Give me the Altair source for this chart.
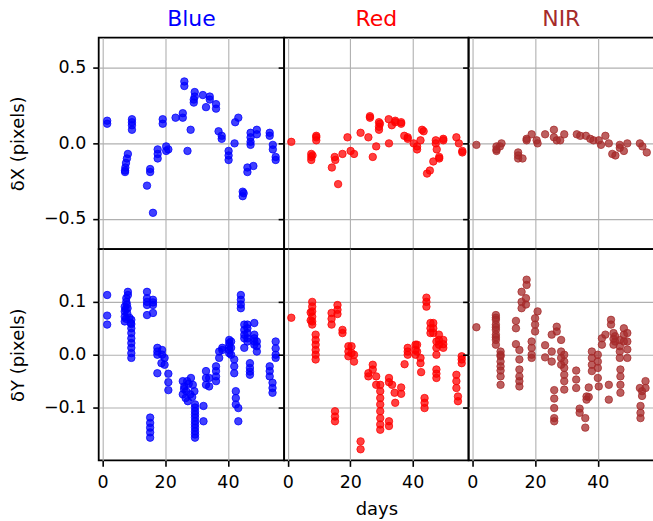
import altair as alt
import pandas as pd

FONT = "DejaVu Sans"

# ---- Blue band --------------------------------------------------------------
blue_dx_day = [1.5, 1.5, 9.4, 9.4, 9.4, 9.4, 8.1, 7.8, 7.5, 7.3, 7.2, 7.2,
               15.2, 15.2, 14.2, 16.1, 17.6, 17.6, 17.6, 19.2, 19.2, 20.3, 20.3,
               21.0, 23.3, 25.6, 25.6, 26.1, 26.1, 28.1, 27.1, 29.1, 29.1, 29.4,
               29.4, 32.0, 33.0, 34.2, 34.2, 36.2, 36.2, 37.0, 38.0, 38.0, 40.2,
               40.2, 40.2, 42.1, 43.3, 42.3, 44.7, 44.7, 45.0, 46.2, 46.2, 48.1,
               47.2, 47.2, 47.2, 47.2, 49.2, 49.2, 53.3, 53.3, 54.3, 54.3, 55.2, 55.2]
blue_dx = [0.15, 0.13, 0.16, 0.14, 0.12, 0.09, -0.07, -0.10, -0.13, -0.16, -0.18, -0.19,
           -0.17, -0.19, -0.28, -0.46, -0.04, -0.07, -0.10, 0.16, 0.13, -0.02, -0.05,
           -0.04, 0.17, 0.20, 0.17, 0.41, 0.38, 0.09, -0.05, 0.27, 0.29, 0.34,
           0.31, 0.32, 0.24, 0.31, 0.29, 0.26, 0.23, 0.08, 0.03, 0.05, -0.05,
           -0.08, -0.11, 0.00, 0.17, 0.14, -0.32, -0.35, -0.33, -0.16, -0.19, -0.15,
           0.07, 0.04, 0.01, -0.01, 0.09, 0.06, 0.07, 0.05, -0.01, -0.04, -0.09, -0.11]

blue_dy_day = [1.5, 1.5, 1.5,
               8.1, 8.1, 7.6, 7.1, 7.1, 7.1, 7.1, 7.6, 7.8, 7.4, 7.9, 7.5, 8.0,
               9.2, 9.2, 9.2, 9.2, 9.2, 9.2, 9.2, 9.2, 9.2, 8.6, 9.0,
               14.2, 14.2, 14.2, 14.2, 14.2, 16.1, 16.1, 16.1, 16.1,
               15.2, 15.2, 15.2, 15.2, 15.2,
               17.5, 17.5, 17.5, 19.0, 19.0, 19.8, 19.8, 18.8, 17.5,
               21.0, 21.0, 21.0,
               25.6, 26.1, 26.7, 25.6, 28.2, 28.8, 29.3, 27.2, 26.0, 27.5, 28.0, 26.5, 27.0, 28.6,
               29.5, 29.5, 29.5, 29.5, 29.5, 29.5, 29.5, 29.5, 29.5, 29.5, 29.5,
               32.2, 32.2, 33.0, 33.0, 33.0, 34.0, 34.0,
               36.2, 36.2, 36.2, 36.2, 37.2, 37.2, 38.2, 38.2,
               40.4, 40.4, 40.4, 40.4, 40.4, 41.0, 41.0, 41.0,
               42.0, 42.0, 42.0, 42.5, 42.5, 42.5, 43.3, 43.3,
               44.1, 44.1, 44.1, 44.1,
               45.2, 45.2, 45.2, 45.2, 45.2, 46.2, 46.2, 46.2, 46.2, 46.2, 48.4,
               47.0, 47.0, 47.0, 47.0, 48.4, 48.4, 48.4, 48.4, 49.2, 49.2, 49.2,
               53.3, 53.3, 53.3, 54.2, 54.2, 54.2, 55.2, 55.2, 55.2, 55.2]
blue_dy = [0.113, 0.074, 0.057,
           0.119, 0.113, 0.100, 0.091, 0.082, 0.072, 0.063, 0.107, 0.095, 0.086, 0.078, 0.068, 0.088,
           0.066, 0.058, 0.050, 0.041, 0.031, 0.022, 0.013, 0.003, -0.006, 0.070, 0.060,
           0.119, 0.107, 0.100, 0.094, 0.075, 0.104, 0.099, 0.094, 0.079,
           -0.119, -0.129, -0.138, -0.147, -0.157,
           0.013, 0.000, 0.006, 0.009, 0.000, -0.006, -0.019, -0.016, -0.035,
           -0.036, -0.052, -0.067,
           -0.050, -0.060, -0.069, -0.075, -0.044, -0.057, -0.069, -0.088, -0.065, -0.055, -0.075, -0.082, -0.050, -0.080,
           -0.094, -0.100, -0.107, -0.113, -0.119, -0.126, -0.132, -0.138, -0.145, -0.151, -0.157,
           -0.097, -0.126, -0.031, -0.044, -0.057, -0.044, -0.060,
           -0.022, -0.031, -0.041, -0.050, 0.006, -0.006, 0.009, 0.013,
           0.028, 0.022, 0.016, 0.009, 0.003, 0.025, 0.013, 0.000,
           -0.009, -0.022, -0.035, -0.069, -0.082, -0.094, -0.101, -0.126,
           0.113, 0.104, 0.095, 0.088,
           0.057, 0.047, 0.038, 0.031, 0.013, 0.057, 0.050, 0.041, 0.031, 0.025, 0.060,
           -0.016, -0.025, -0.032, -0.038, 0.038, 0.031, 0.025, 0.019, 0.025, 0.016, 0.006,
           -0.022, -0.031, -0.041, -0.053, -0.063, -0.072, 0.025, 0.012, 0.000, -0.006]

# ---- Red band ---------------------------------------------------------------
red_dx_day = [1.1, 9.1, 9.1, 9.1, 7.5, 7.5, 7.5, 7.9, 15.0, 15.2, 14.1, 16.1,
              17.5, 19.1, 20.1, 21.2, 23.3, 25.8, 26.3, 26.3, 27.2, 28.3,
              29.2, 29.2, 29.2, 29.5, 32.4, 32.3, 33.3, 34.4, 34.4, 36.3, 36.3,
              37.3, 38.4, 38.4, 40.3, 41.4, 41.4, 42.5, 43.0, 43.5, 44.6, 45.5,
              46.6, 47.4, 47.4, 47.7, 48.5, 48.5, 49.8, 49.8, 54.0, 54.8, 55.9, 55.9]
red_dx = [0.01, 0.05, 0.04, 0.02, -0.07, -0.09, -0.11, -0.08, -0.09, -0.11, -0.16, -0.27,
          -0.07, 0.04, -0.05, -0.07, 0.07, 0.04, 0.18, 0.17, -0.09, -0.02,
          0.09, 0.11, 0.14, 0.13, 0.00, 0.16, 0.12, 0.15, 0.14, 0.14, 0.13,
          0.05, 0.04, 0.03, 0.00, -0.04, -0.02, 0.02, 0.09, 0.08, -0.20, -0.18,
          -0.12, 0.02, 0.00, -0.04, -0.10, -0.09, 0.02, 0.03, 0.04, 0.00, -0.06, -0.05]

red_dy_day = [1.1, 7.8, 7.8, 7.8, 7.8, 7.8, 7.8, 7.3, 7.3,
              8.9, 8.9, 8.9, 8.9, 8.9, 8.9,
              14.0, 14.0, 14.0, 15.9, 15.9, 15.9, 15.1, 15.1, 15.1, 17.5, 17.5,
              19.4, 19.4, 19.4, 20.4, 20.4, 21.2, 21.2, 23.3, 23.3,
              25.8, 25.8, 27.2, 27.2, 28.3, 28.3,
              29.6, 29.6, 29.6, 29.6, 29.6, 29.6, 29.6, 29.6,
              32.4, 32.4, 32.4, 32.4, 33.4, 34.2, 34.4, 36.3, 36.3, 37.4,
              38.4, 38.4, 38.4, 40.9, 40.9, 40.9, 41.4, 41.4, 42.5, 42.5, 42.7,
              43.8, 43.8, 43.8, 44.4, 44.4, 44.4,
              45.7, 45.7, 45.7, 46.6, 46.6, 46.6, 47.6, 47.6, 47.6, 47.6, 47.6, 47.6,
              48.4, 48.4, 48.4, 49.8, 49.8, 49.8, 54.0, 54.0, 54.0, 54.5, 54.5,
              55.7, 55.7, 55.7]
red_dy = [0.070, 0.100, 0.091, 0.082, 0.072, 0.063, 0.057, 0.080, 0.065,
          0.038, 0.028, 0.019, 0.009, 0.000, -0.009,
          0.079, 0.068, 0.057, 0.094, 0.085, 0.077, -0.107, -0.117, -0.126, 0.047, 0.041,
          0.016, 0.006, -0.003, 0.016, 0.003, 0.000, -0.013, -0.164, -0.179,
          -0.035, -0.041, -0.019, -0.028, -0.041, -0.057,
          -0.057, -0.069, -0.082, -0.094, -0.107, -0.120, -0.132, -0.142,
          -0.044, -0.052, -0.126, -0.135, -0.057, -0.072, -0.091, -0.062, -0.074, -0.018,
          0.013, 0.006, 0.000, 0.019, 0.009, 0.000, 0.019, 0.006, -0.006, -0.016, -0.033,
          -0.082, -0.091, -0.101, 0.108, 0.100, 0.091,
          0.060, 0.050, 0.041, 0.060, 0.050, 0.041, 0.025, 0.013, 0.000, -0.028, -0.036, -0.044,
          0.038, 0.028, 0.019, 0.028, 0.020, 0.013, -0.038, -0.050, -0.063, -0.079, -0.088,
          -0.003, -0.009, -0.016]

# ---- NIR band ---------------------------------------------------------------
nir_dx_day = [1.3, 7.7, 7.7, 7.7, 9.3, 8.8, 14.6, 14.6, 14.6, 16.0,
              17.3, 17.3, 18.9, 20.5, 20.8, 23.2, 26.0, 26.0, 26.9, 28.0, 29.3,
              33.3, 34.4, 36.2, 37.6, 38.6, 40.3, 41.0, 42.4, 43.5,
              44.6, 45.6, 47.0, 47.0, 48.3, 49.4, 53.4, 54.2, 55.6]
nir_dx = [-0.01, -0.02, -0.04, -0.05, 0.00, -0.02, -0.06, -0.08, -0.10, -0.10,
          0.02, 0.03, 0.06, 0.02, 0.00, 0.06, 0.09, 0.04, 0.02, 0.02, 0.06,
          0.06, 0.05, 0.05, 0.03, 0.02, 0.02, -0.01, 0.05, 0.00,
          -0.07, -0.08, -0.01, -0.03, -0.05, 0.00, 0.00, -0.02, -0.06]

nir_dy_day = [1.3,
              7.5, 7.5, 7.5, 7.5, 7.5, 7.5, 7.5, 7.5, 7.5, 7.5,
              9.0, 9.0, 9.0, 9.0, 9.0, 9.0, 9.0, 9.0,
              13.9, 13.9, 13.9, 15.0, 15.0, 15.0, 15.0, 15.0, 15.0,
              15.7, 15.7, 15.7, 17.3, 17.3, 17.1, 17.1,
              18.9, 18.9, 18.9, 18.9, 20.0, 20.0, 20.0, 20.8,
              23.2, 23.2, 25.3, 25.3, 25.3, 26.1, 26.1, 26.1, 26.1, 26.1,
              26.9, 26.9, 28.3, 28.3, 28.3, 28.3,
              29.3, 29.3, 29.3, 29.3, 29.3, 29.3,
              33.1, 33.1, 33.1, 34.2, 34.2, 36.0, 36.0, 36.4, 36.4, 37.1, 37.1,
              38.1, 38.1, 38.1, 38.1, 40.0, 40.0, 40.0, 40.0, 40.3,
              41.3, 41.3, 42.4, 43.5, 43.5, 44.2, 44.2,
              45.0, 45.0, 45.0, 45.5, 45.5, 47.0, 47.0, 47.0, 47.0,
              47.2, 47.2, 47.2, 47.2, 48.3, 48.3, 48.3, 49.4, 49.4, 49.4, 49.4,
              53.4, 53.6, 53.6, 53.6, 54.1, 54.1, 55.2, 55.2]
nir_dy = [0.052,
          0.075, 0.070, 0.066, 0.057, 0.052, 0.047, 0.038, 0.033, 0.028, 0.019,
          0.006, 0.000, -0.003, -0.013, -0.022, -0.030, -0.041, -0.057,
          0.064, 0.050, 0.020, 0.009, -0.009, -0.028, -0.041, -0.050, -0.060,
          0.119, 0.100, 0.088, 0.142, 0.132, 0.107, 0.095,
          0.025, 0.013, 0.000, -0.006, 0.069, 0.057, 0.044, 0.082,
          0.018, -0.005, 0.038, 0.006, -0.013, -0.067, -0.083, -0.101, -0.120, -0.126,
          0.053, 0.044, 0.028, 0.006, -0.006, -0.019,
          0.000, -0.013, -0.025, -0.038, -0.050, -0.066,
          -0.030, -0.047, -0.063, -0.102, -0.110, -0.120, -0.138, -0.079, -0.085, -0.062, -0.080,
          0.006, -0.006, -0.019, -0.031, 0.000, -0.013, -0.025, -0.044, -0.060,
          0.031, 0.019, 0.038, -0.057, -0.085, 0.066, 0.057,
          0.041, 0.030, 0.019, 0.025, 0.035, 0.028, 0.016, 0.006, -0.006,
          -0.028, -0.041, -0.057, -0.072, 0.050, 0.038, 0.025, 0.041, 0.025, 0.010, -0.006,
          -0.063, -0.097, -0.110, -0.120, -0.069, -0.078, -0.050, -0.063]

BANDS = [
    ("Blue", "#0000ff", blue_dx_day, blue_dx, blue_dy_day, blue_dy),
    ("Red", "#ff0000", red_dx_day, red_dx, red_dy_day, red_dy),
    ("NIR", "#a52a2a", nir_dx_day, nir_dx, nir_dy_day, nir_dy),
]

X_DOMAIN = [-1.2, 57.9]
X_TICKS = [0, 20, 40]
DX_DOMAIN = [-0.7, 0.7]
DX_TICKS = [-0.5, 0.0, 0.5]
DY_DOMAIN = [-0.2, 0.2]
DY_TICKS = [-0.1, 0.0, 0.1]
PANEL_W = [186, 185, 186]
PANEL_H = 212


def panel(days, values, color, y_domain, y_ticks, y_title, first_col, top_row,
          width, title=None, x_title=None):
    df = pd.DataFrame({"day": days, "value": values})
    x_axis = alt.Axis(values=X_TICKS, format="d", domain=False, grid=True,
                      labels=not top_row, ticks=not top_row,
                      title=x_title if x_title else None,
                      titleFontWeight="normal")
    y_axis = alt.Axis(values=y_ticks, format=".1f", domain=False, grid=True,
                      labels=first_col, ticks=True,
                      title=y_title if first_col else None,
                      titleFontWeight="normal")
    ch = alt.Chart(df).mark_circle(
        size=56, color=color, fillOpacity=0.75,
        stroke=color, strokeOpacity=0.75, strokeWidth=1,
    ).encode(
        x=alt.X("day:Q", scale=alt.Scale(domain=X_DOMAIN, nice=False, zero=False),
                axis=x_axis),
        y=alt.Y("value:Q", scale=alt.Scale(domain=y_domain, nice=False, zero=False),
                axis=y_axis),
    ).properties(width=width, height=PANEL_H)
    if title:
        ch = ch.properties(title=alt.TitleParams(
            title, color=color, fontSize=22, font=FONT, fontWeight="normal",
            baseline="alphabetic", offset=-10, anchor="middle"))
    return ch


panels = []
for i, (name, color, dxd, dx, dyd, dy) in enumerate(BANDS):
    panels.append(panel(dxd, dx, color, DX_DOMAIN, DX_TICKS, "δX (pixels)",
                        i == 0, True, PANEL_W[i], title=name))
for i, (name, color, dxd, dx, dyd, dy) in enumerate(BANDS):
    panels.append(panel(dyd, dy, color, DY_DOMAIN, DY_TICKS, "δY (pixels)",
                        i == 0, False, PANEL_W[i],
                        x_title="days" if i == 1 else None))

chart = alt.concat(
    *panels, columns=3, spacing=0, bounds="flush",
).configure(
    padding={"left": 8, "top": 6, "right": -2, "bottom": 2},
    background="white",
).configure_view(
    stroke="black", strokeWidth=1.8,
).configure_axis(
    labelFont=FONT, labelFontSize=17.5, labelColor="black",
    titleFont=FONT, titleFontSize=18, titleFontWeight="normal", titleColor="black",
    tickColor="black", tickWidth=1.6, tickSize=6,
    gridColor="#b0b0b0", gridWidth=1.1,
).configure_axisY(
    labelPadding=7, titlePadding=16,
).configure_axisX(
    labelPadding=7, titlePadding=10,
)

chart.save("out.html", embed_options={"renderer": "svg", "actions": False})
